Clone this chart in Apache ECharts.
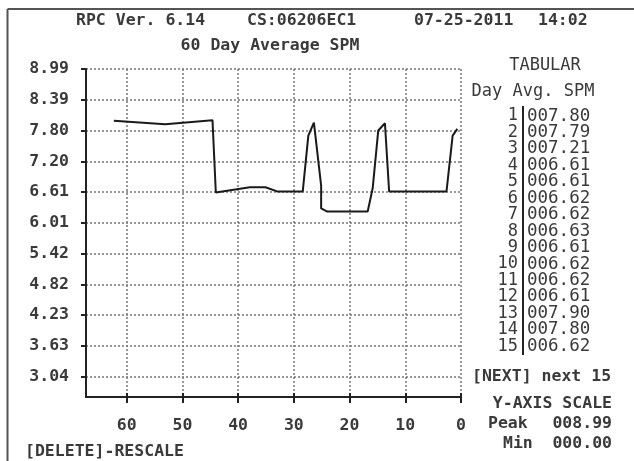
<!DOCTYPE html>
<html><head><meta charset="utf-8">
<script src="https://cdn.jsdelivr.net/npm/echarts@6/dist/echarts.min.js"></script>
<style>html,body{margin:0;padding:0;background:#fff}#c{width:634px;height:461px}</style>
</head><body><div id="c"></div>
<script>
// ---- data ----
const headerTexts = ['RPC Ver. 6.14', 'CS:06206EC1', '07-25-2011', '14:02'];
const chartTitle = '60 Day Average SPM';
const yTickLabels = ['8.99','8.39','7.80','7.20','6.61','6.01','5.42','4.82','4.23','3.63','3.04'];
const xTickValues = [60, 50, 40, 30, 20, 10, 0];
const lineDays   = [62.3, 53.1, 44.6, 44.0, 37.9, 35.1, 33.0, 28.4, 27.4, 26.4, 25.1, 25.1, 24.0, 16.75, 15.85, 14.85, 13.65, 12.9, 2.6, 1.5, 0.66];
const lineValues = [7.99, 7.92, 8.00, 6.60, 6.70, 6.70, 6.62, 6.62, 7.70, 7.95, 6.73, 6.29, 6.23, 6.23, 6.68, 7.80, 7.94, 6.62, 6.62, 7.70, 7.83];
const tabularTitle = 'TABULAR';
const tabularHeader = 'Day Avg. SPM';
const tabularDays = [1, 2, 3, 4, 5, 6, 7, 8, 9, 10, 11, 12, 13, 14, 15];
const tabularValues = ['007.80','007.79','007.21','006.61','006.61','006.62','006.62','006.63','006.61','006.62','006.62','006.61','007.90','007.80','006.62'];
const nextText = '[NEXT] next 15';
const scaleTitle = 'Y-AXIS SCALE';
const scaleRows = [['Peak', '008.99'], ['Min', '000.00']];
const footerText = '[DELETE]-RESCALE';

// ---- chart ----
const FONT = '"DejaVu Sans Mono", "Liberation Mono", monospace';
const FS = 16.5;
const FW = 'bold';
const TXT = '#3a3a3a';
const chart = echarts.init(document.getElementById('c'), null, {renderer: 'canvas'});

function txt(text, x, y, align, size, weight) {
  return {type: 'text', silent: true, x: x, y: y,
    style: {text: text, fontFamily: FONT, fontSize: size || FS, fontWeight: weight || FW, fill: TXT,
      textAlign: align || 'left', textVerticalAlign: 'middle', align: align || 'left', verticalAlign: 'middle'}};
}

const graphics = [];
// frame
graphics.push({type: 'line', silent: true, shape: {x1: 7.5, y1: 9, x2: 634, y2: 9}, style: {stroke: '#555', lineWidth: 2}});
graphics.push({type: 'line', silent: true, shape: {x1: 7.5, y1: 9, x2: 7.5, y2: 461}, style: {stroke: '#555', lineWidth: 2}});
// header
const headerX = [76, 247, 414, 538];
headerTexts.forEach((t, i) => graphics.push(txt(t, headerX[i], 21)));
graphics.push(txt(chartTitle, 270, 46, 'center'));
// tabular
graphics.push(txt(tabularTitle, 545, 66, 'center', 17, 'normal'));
graphics.push(txt(tabularHeader, 533, 92, 'center', 17, 'normal'));
tabularDays.forEach((d, i) => {
  const y = 116 + i * 16.45;
  graphics.push(txt(String(d), 518, y, 'right', 17, 'normal'));
  graphics.push(txt(tabularValues[i], 527, y, 'left', 17.5, 'normal'));
});
graphics.push({type: 'line', silent: true, shape: {x1: 523, y1: 106, x2: 523, y2: 355}, style: {stroke: '#222', lineWidth: 2}});
graphics.push(txt(nextText, 472, 377, 'left'));
graphics.push(txt(scaleTitle, 612, 404, 'right'));
graphics.push(txt(scaleRows[0][0], 488, 424, 'left'));
graphics.push(txt(scaleRows[0][1], 612, 424, 'right'));
graphics.push(txt(scaleRows[1][0], 503, 444, 'left'));
graphics.push(txt(scaleRows[1][1], 612, 444, 'right'));
graphics.push(txt(footerText, 25, 452, 'left'));

const yVals = yTickLabels.map(Number);
const option = {
  animation: false,
  backgroundColor: '#fff',
  grid: {left: 86, right: 173, top: 69, bottom: 64, containLabel: false},
  xAxis: [{
    type: 'value', inverse: true, min: 0, max: 67.3,
    axisLine: {show: true, onZero: false, lineStyle: {color: '#222', width: 2}},
    axisTick: {show: true, customValues: xTickValues, length: 6, lineStyle: {color: '#222', width: 2}},
    axisLabel: {customValues: xTickValues, margin: 20, fontFamily: FONT, fontSize: FS, fontWeight: FW, color: TXT,
      formatter: v => String(v)},
    splitLine: {show: true, lineStyle: {color: '#777', width: 1.5, type: [2, 2]}}
  }, {
    // inward half of the crossing x ticks
    type: 'value', inverse: true, min: 0, max: 67.3, position: 'bottom',
    axisLine: {show: false},
    axisTick: {show: true, inside: true, customValues: xTickValues, length: 4, lineStyle: {color: '#222', width: 2}},
    axisLabel: {show: false},
    splitLine: {show: false}
  }],
  yAxis: {
    type: 'value', min: 2.64, max: 8.99,
    axisLine: {show: true, onZero: false, lineStyle: {color: '#222', width: 2}},
    axisTick: {show: true, customValues: yVals, length: 5, lineStyle: {color: '#222', width: 2}},
    axisLabel: {customValues: yVals, margin: 17, fontFamily: FONT, fontSize: FS, fontWeight: FW, color: TXT,
      formatter: v => v.toFixed(2)},
    splitLine: {show: true, lineStyle: {color: '#777', width: 1.5, type: [2, 2]}}
  },
  series: [{
    type: 'line', showSymbol: false, symbol: 'none',
    data: lineDays.map((d, i) => [d, lineValues[i]]),
    lineStyle: {color: '#1a1a1a', width: 2},
    z: 5
  }],
  graphic: graphics
};
chart.setOption(option);
</script>
</body></html>
